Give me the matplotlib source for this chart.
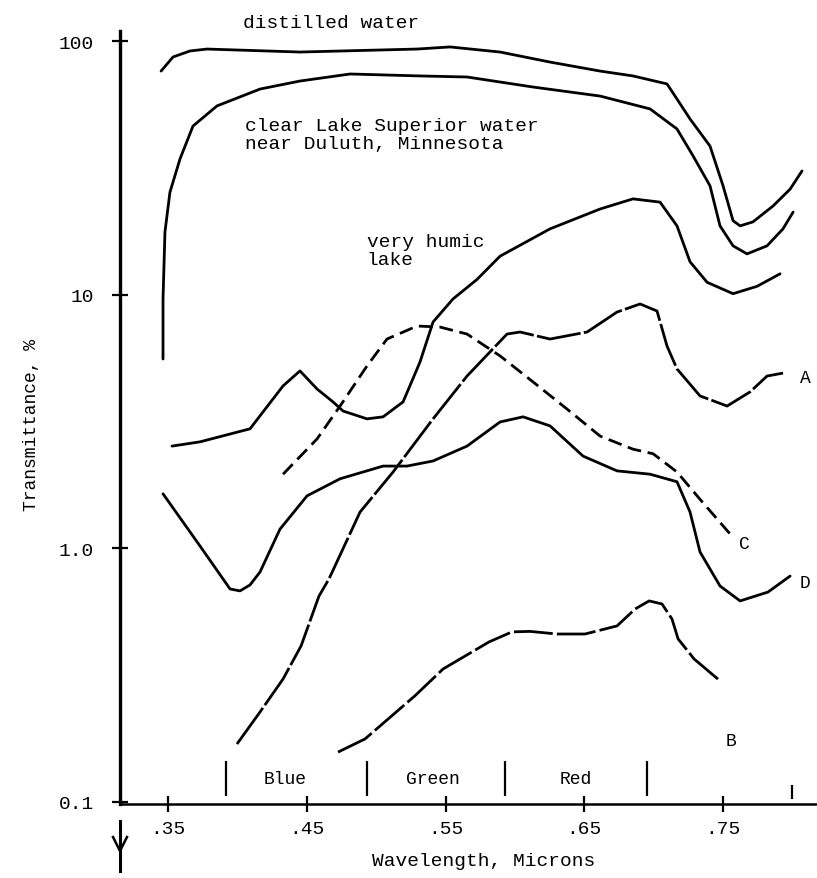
import matplotlib
matplotlib.use("Agg")
import matplotlib.pyplot as plt
from matplotlib.lines import Line2D

plt.rcParams['font.family'] = ['Liberation Mono', 'DejaVu Sans Mono']

# ---------------- data (wavelength in microns, transmittance in %) ----------------
distilled_x = [0.345, 0.3536, 0.3659, 0.3781, 0.4451, 0.5295, 0.5532, 0.5893, 0.6253, 0.6614,
               0.6851, 0.7096, 0.7154, 0.7262, 0.7406, 0.750, 0.7572, 0.7623, 0.7716,
               0.786, 0.7983, 0.8069]
distilled_y = [76.3, 86.7, 91.6, 93.2, 90.7, 93.2, 95.0, 90.7, 82.8, 76.3,
               73.0, 67.9, 60.8, 49.4, 38.6, 26.9, 19.6, 18.7, 19.4,
               22.4, 26.1, 30.8]

superior_x = [0.3464, 0.3464, 0.3478, 0.3514, 0.3586, 0.368, 0.3853, 0.4163, 0.4451,
              0.4812, 0.5316, 0.5655, 0.6131, 0.6614, 0.6974, 0.7168, 0.7284, 0.7406,
              0.7478, 0.7572, 0.7673, 0.7817, 0.7932, 0.8005]
superior_y = [5.58, 9.63, 17.7, 25.4, 34.3, 46.3, 55.6, 64.8, 69.7,
              74.3, 73.0, 72.3, 66.0, 60.8, 54.1, 45.1, 35.3, 26.9,
              18.7, 15.6, 14.5, 15.6, 18.2, 21.2]

humic_x = [0.3529, 0.3731, 0.4091, 0.4329, 0.4451, 0.4574, 0.4689, 0.4761, 0.4934,
           0.505, 0.5194, 0.5316, 0.541, 0.5554, 0.5727, 0.5893, 0.6253, 0.6614,
           0.6851, 0.7046, 0.7168, 0.7262, 0.7385, 0.7572, 0.7745, 0.7911]
humic_y = [2.53, 2.63, 2.96, 4.37, 5.01, 4.25, 3.78, 3.48, 3.24,
           3.30, 3.78, 5.43, 7.81, 9.63, 11.5, 14.2, 18.2, 21.8,
           23.9, 23.2, 18.7, 13.5, 11.2, 10.1, 10.8, 12.1]

a_x = [0.3997, 0.4163, 0.4329, 0.4459, 0.4588, 0.466, 0.4884, 0.5122, 0.541, 0.5655,
       0.5943, 0.6037, 0.6253, 0.652, 0.6736, 0.6902, 0.7024, 0.7096, 0.7168, 0.7334,
       0.7529, 0.7695, 0.7817, 0.7932]
a_y = [0.169, 0.226, 0.305, 0.412, 0.648, 0.757, 1.39, 2.0, 3.24, 4.78,
       7.0, 7.13, 6.69, 7.13, 8.55, 9.20, 8.63, 6.28, 5.10, 3.99,
       3.64, 4.14, 4.78, 4.91]

b_x = [0.4725, 0.492, 0.5086, 0.528, 0.5482, 0.5813, 0.5979, 0.6109, 0.6304, 0.6505,
       0.6736, 0.6866, 0.6967, 0.706, 0.7132, 0.7176, 0.7291, 0.7478]
b_y = [0.157, 0.177, 0.212, 0.262, 0.334, 0.427, 0.468, 0.47, 0.459, 0.459,
       0.494, 0.576, 0.620, 0.603, 0.526, 0.439, 0.366, 0.300]

c_x = [0.4329, 0.4574, 0.474, 0.4934, 0.5078, 0.5295, 0.546, 0.5655, 0.5893, 0.6131,
       0.6376, 0.6614, 0.6851, 0.6996, 0.7168, 0.7334, 0.755]
c_y = [1.96, 2.70, 3.64, 5.24, 6.69, 7.53, 7.46, 7.0, 5.74, 4.53,
       3.54, 2.77, 2.46, 2.36, 2.0, 1.56, 1.14]

d_x = [0.3464, 0.3731, 0.3947, 0.4019, 0.4091, 0.4163, 0.4307, 0.4502, 0.474, 0.505,
       0.5222, 0.541, 0.5655, 0.5893, 0.6059, 0.6253, 0.6491, 0.6736, 0.6974, 0.7168,
       0.7262, 0.7334, 0.7478, 0.7623, 0.7824, 0.7983]
d_y = [1.64, 1.02, 0.691, 0.679, 0.717, 0.806, 1.19, 1.61, 1.88, 2.11,
       2.11, 2.21, 2.53, 3.15, 3.30, 3.04, 2.31, 2.02, 1.96, 1.83,
       1.39, 0.967, 0.710, 0.620, 0.672, 0.777]

x_ticks = [0.35, 0.45, 0.55, 0.65, 0.75]
x_tick_labels = ['.35', '.45', '.55', '.65', '.75']
y_ticks = [0.1, 1.0, 10, 100]
y_tick_labels = ['0.1', '1.0', '10', '100']

band_names = ['Blue', 'Green', 'Red']
band_centers = [0.4343, 0.541, 0.644]
band_edges = [0.3918, 0.4934, 0.5929, 0.6952]

# ---------------- figure ----------------
W, H = 817, 879
fig = plt.figure(figsize=(W / 100, H / 100), dpi=100)
ax = fig.add_axes([120 / W, 1 - 805 / H, 1 - 120 / W, (805 - 31.7) / H])
ax.set_yscale('log')
ax.set_xlim(0.3154, 0.8177)
ax.set_ylim(0.098, 110.1)

lw = 2.0
common = dict(color='black', lw=lw, solid_capstyle='round', solid_joinstyle='round',
              dash_joinstyle='round')
ax.plot(distilled_x, distilled_y, **common)
ax.plot(superior_x, superior_y, **common)
ax.plot(humic_x, humic_y, **common)
ax.plot(a_x, a_y, linestyle=(0, (16, 1.2)), **common)
ax.plot(b_x, b_y, linestyle=(0, (14, 1.5)), **common)
ax.plot(c_x, c_y, linestyle=(0, (5.0, 2.4)), **common)
ax.plot(d_x, d_y, **common)

# band dividers and names
ax.vlines(band_edges, 0.1054, 0.1449, color='black', lw=1.6)
ax.vlines([0.80], 0.103, 0.116, color='black', lw=1.6)
for name, xc in zip(band_names, band_centers):
    ax.text(xc, 0.1235, name, ha='center', va='center', fontsize=13)

# text annotations
fs = 14
ax.text(0.4041, 113.9, 'distilled water', ha='left', va='baseline', fontsize=fs, clip_on=False)
ax.text(0.4055, 44.5, 'clear Lake Superior water', ha='left', va='baseline', fontsize=fs)
ax.text(0.4055, 38.0, 'near Duluth, Minnesota', ha='left', va='baseline', fontsize=fs)
ax.text(0.4934, 15.6, 'very humic', ha='left', va='baseline', fontsize=fs)
ax.text(0.4934, 13.2, 'lake', ha='left', va='baseline', fontsize=fs)
ax.text(0.8054, 4.7, 'A', ha='left', va='center', fontsize=13)
ax.text(0.7616, 1.04, 'C', ha='left', va='center', fontsize=13)
ax.text(0.8054, 0.735, 'D', ha='left', va='center', fontsize=13)
ax.text(0.7522, 0.174, 'B', ha='left', va='center', fontsize=13)

# axes styling
for s in ['top', 'right']:
    ax.spines[s].set_visible(False)
ax.spines['left'].set_linewidth(2.4)
ax.spines['bottom'].set_linewidth(1.8)
ax.set_xticks(x_ticks)
ax.set_xticklabels(x_tick_labels)
ax.set_yticks(y_ticks)
ax.set_yticklabels(y_tick_labels)
ax.yaxis.set_minor_locator(matplotlib.ticker.NullLocator())
ax.tick_params(axis='both', direction='inout', length=11, width=1.6, labelsize=14)
ax.tick_params(axis='y', pad=13)
ax.tick_params(axis='x', pad=6)

ax.set_xlabel('Wavelength, Microns', fontsize=14)
ax.xaxis.set_label_coords((484 - 120) / 697, (805 - 853) / 773.3)
ax.set_ylabel('Transmittance, %', fontsize=13)
ax.yaxis.set_label_coords((40 - 120) / 697, (805 - 425) / 773.3)

# arrow below the origin
arrow_x = 120 / W
fig.add_artist(Line2D([arrow_x, arrow_x], [1 - 822 / H, 1 - 872 / H], color='black', lw=2.2))
fig.add_artist(Line2D([113 / W, arrow_x, 127 / W], [1 - 838 / H, 1 - 852 / H, 1 - 838 / H],
                      color='black', lw=1.8))

fig.savefig('out.png', dpi=100)
